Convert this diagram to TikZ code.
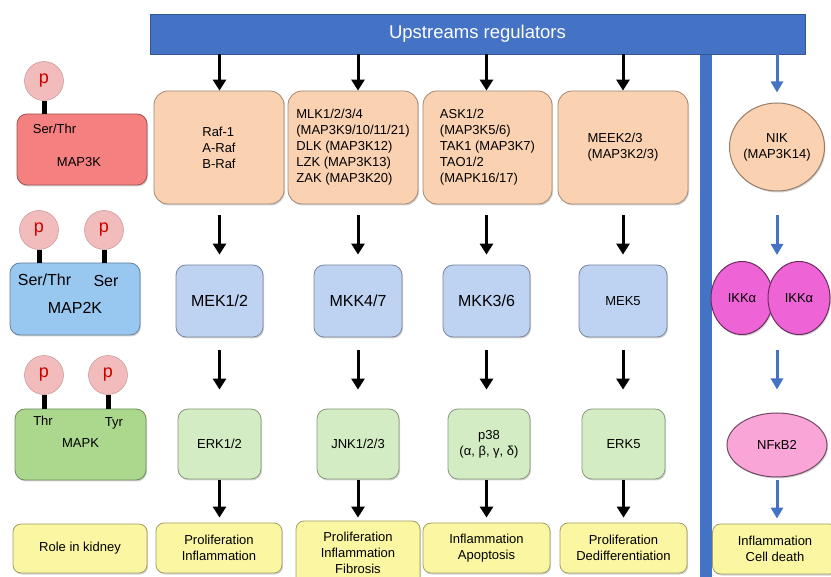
\documentclass[tikz,border=0pt]{standalone}
\usepackage{fontspec}
\setmainfont{Liberation Sans}
\usetikzlibrary{positioning}
\usetikzlibrary{arrows.meta, shapes.geometric, shadows}

\definecolor{barblue}{RGB}{68,114,196}
\definecolor{peach}{RGB}{250,210,178}
\definecolor{kkkred}{RGB}{245,128,128}
\definecolor{kkblue}{RGB}{152,200,240}
\definecolor{mekblue}{RGB}{190,210,242}
\definecolor{kgreen}{RGB}{172,216,142}
\definecolor{erkgreen}{RGB}{212,236,196}
\definecolor{roleyellow}{RGB}{250,246,162}
\definecolor{pdot}{RGB}{242,188,188}
\definecolor{pred}{RGB}{205,0,0}
\definecolor{ikkpink}{RGB}{238,100,214}
\definecolor{nfkbpink}{RGB}{250,165,215}

\tikzset{
  box/.style={rectangle, rounded corners=10pt, draw=#1!65!black, fill=#1, line width=0.8pt,
    inner sep=2pt, align=center, font=\fontsize{13}{16}\selectfont,
    drop shadow={shadow xshift=1pt, shadow yshift=-1.5pt, opacity=0.35}},
  sz/.style 2 args={minimum width=#1pt, minimum height=#2pt},
  big/.style={font=\fontsize{16}{19}\selectfont},
  lbl/.style={inner sep=0pt, font=\fontsize{13}{16}\selectfont},
  pdotc/.style={circle, minimum size=39pt, inner sep=0pt, fill=pdot, draw=pdot!80!black, line width=0.5pt,
    text=pred, font=\fontsize{18}{20}\selectfont},
  stick/.style={line width=5pt, black},
  blk/.style={-{Triangle[width=13pt,length=11pt]}, line width=3pt, black},
  blu/.style={-{Triangle[width=12pt,length=11pt]}, line width=3pt, barblue},
  oval/.style={ellipse, inner sep=0pt, draw=#1!45!black, fill=#1, line width=1pt,
    align=center, font=\fontsize{13}{16}\selectfont,
    drop shadow={shadow xshift=1pt, shadow yshift=-1.5pt, opacity=0.35}},
}

\begin{document}
\begin{tikzpicture}[x=1pt,y=-1pt]
\useasboundingbox (0,0) rectangle (831,577);

% separator and header
\fill[barblue] (700,54) rectangle (712,577);
\node[rectangle, fill=barblue, draw=barblue!75!black, line width=0.8pt, sz={655}{40}, text=white,
  font=\fontsize{18.5}{22}\selectfont] (bar) at (477.5,34) {Upstreams regulators};

% left column: the three kinase levels
\node[box=kkkred, sz={130}{71}] (map3k) at (82,149.5) {};
\node[lbl] (map3ks) at (54.5,129) {Ser/Thr};
\node[lbl] (map3kn) at (79,162) {MAP3K};
\node[pdotc] (p1) at (44,81) {p};
\draw[stick] (p1.south) -- (p1.south |- map3k.north);

\node[box=kkblue, sz={130}{72}] (map2k) at (75,299) {};
\node[lbl, big] (map2ks) at (44.5,280) {Ser/Thr};
\node[lbl, big] (map2kt) at (106,281) {Ser};
\node[lbl, big] (map2kn) at (75,308) {MAP2K};
\node[pdotc] (p2) at (39,230) {p};
\node[pdotc] (p3) at (104,230) {p};
\draw[stick] (p2.south) -- (p2.south |- map2k.north);
\draw[stick] (p3.south) -- (p3.south |- map2k.north);

\node[box=kgreen, sz={131}{71}] (mapk) at (80.5,444.5) {};
\node[lbl] (mapks) at (43,421) {Thr};
\node[lbl] (mapkt) at (114,423) {Tyr};
\node[lbl] (mapkn) at (80.5,443) {MAPK};
\node[pdotc] (p4) at (44,375) {p};
\node[pdotc] (p5) at (108,375) {p};
\draw[stick] (p4.south) -- (p4.south |- mapk.north);
\draw[stick] (p5.south) -- (p5.south |- mapk.north);

\node[box=roleyellow, sz={134}{49}, rounded corners=8pt] (role) at (80,548.5) {Role in kidney};

% MAP3K row
\node[box=peach, sz={130}{113}, rounded corners=14pt, align=left] (raf) at (219,147.5) {Raf-1\\A-Raf\\B-Raf};
\node[box=peach, sz={130}{113}, rounded corners=14pt, align=left] (mlk) at (353,147.5)
  {MLK1/2/3/4\\(MAP3K9/10/11/21)\\DLK (MAP3K12)\\LZK (MAP3K13)\\ZAK (MAP3K20)};
\node[box=peach, sz={129}{113}, rounded corners=14pt, align=left] (ask) at (487.5,147.5)
  {ASK1/2\\(MAP3K5/6)\\TAK1 (MAP3K7)\\TAO1/2\\(MAPK16/17)};
\node[box=peach, sz={130}{113}, rounded corners=14pt, align=left] (meek) at (623,147.5) {MEEK2/3\\(MAP3K2/3)};

% MAP2K row
\node[box=mekblue, sz={87}{72}, big] (mek) at (219.5,301) {MEK1/2};
\node[box=mekblue, sz={88}{72}, big] (mkk47) at (358,301) {MKK4/7};
\node[box=mekblue, sz={87}{72}, big] (mkk36) at (486.5,301) {MKK3/6};
\node[box=mekblue, sz={88}{72}] (mek5) at (623,301) {MEK5};

% MAPK row
\node[box=erkgreen, sz={83}{70}] (erk) at (219.5,444) {ERK1/2};
\node[box=erkgreen, sz={82}{70}] (jnk) at (358,444) {JNK1/2/3};
\node[box=erkgreen, sz={82}{70}] (p38) at (489,444) {p38\\(α, β, γ, δ)};
\node[box=erkgreen, sz={83}{70}] (erk5) at (623.5,444) {ERK5};

% roles in kidney
\node[box=roleyellow, sz={126}{50}, rounded corners=8pt] (role1) at (219,548) {Proliferation\\Inflammation};
\node[box=roleyellow, sz={124}{64}, rounded corners=8pt] (role2) at (358,553) {Proliferation\\Inflammation\\Fibrosis};
\node[box=roleyellow, sz={127}{50}, rounded corners=8pt] (role3) at (486.5,548) {Inflammation\\Apoptosis};
\node[box=roleyellow, sz={127}{50}, rounded corners=8pt] (role4) at (623.5,548) {Proliferation\\Dedifferentiation};
\node[box=roleyellow, sz={125}{50}, rounded corners=8pt] (role5) at (775,549) {Inflammation\\Cell death};

% non-canonical branch
\node[oval=peach, draw=peach!60!black, minimum width=88pt, minimum height=88pt] (nik) at (777,147) {NIK\\(MAP3K14)};
\node[oval=ikkpink, minimum width=62pt, minimum height=73pt] (ikka) at (742,298) {IKKα};
\node[oval=ikkpink, minimum width=62pt, minimum height=73pt] (ikkb) at (799,298) {IKKα};
\node[oval=nfkbpink, minimum width=100pt, minimum height=64pt] (nfkb) at (777,445) {NFκB2};

% arrows
\draw[blk] (bar.south -| mek.north) -- (mek.north |- raf.north);
\draw[blk] (bar.south -| mkk47.north) -- (mkk47.north |- mlk.north);
\draw[blk] (bar.south -| mkk36.north) -- (mkk36.north |- ask.north);
\draw[blk] (bar.south -| mek5.north) -- (mek5.north |- meek.north);

\draw[blk, shorten <=11pt, shorten >=10pt] (mek.north |- raf.south) -- (mek.north);
\draw[blk, shorten <=11pt, shorten >=10pt] (mkk47.north |- mlk.south) -- (mkk47.north);
\draw[blk, shorten <=11pt, shorten >=10pt] (mkk36.north |- ask.south) -- (mkk36.north);
\draw[blk, shorten <=11pt, shorten >=10pt] (mek5.north |- meek.south) -- (mek5.north);

\draw[blk, shorten <=13pt, shorten >=19pt] (mek.south) -- (mek.south |- erk.north);
\draw[blk, shorten <=13pt, shorten >=19pt] (mkk47.south) -- (mkk47.south |- jnk.north);
\draw[blk, shorten <=13pt, shorten >=19pt] (mkk36.south) -- (mkk36.south |- p38.north);
\draw[blk, shorten <=13pt, shorten >=19pt] (mek5.south) -- (mek5.south |- erk5.north);

\draw[blk, shorten <=1pt, shorten >=5pt] (erk.south) -- (erk.south |- role1.north);
\draw[blk, shorten <=1pt, shorten >=3pt] (jnk.south) -- (jnk.south |- role2.north);
\draw[blk, shorten <=1pt, shorten >=5pt] (mkk36.south |- p38.south) -- (mkk36.south |- role3.north);
\draw[blk, shorten <=1pt, shorten >=5pt] (erk5.south) -- (erk5.south |- role4.north);

\draw[blu, shorten >=10pt] (bar.south -| nik.north) -- (nik.north);
\draw[blu, shorten <=24pt, shorten >=6pt] (nik.south) -- (nik.south |- ikka.north);
\draw[blu, shorten <=15pt, shorten >=23pt] (nik.south |- ikka.south) -- (nfkb.north);
\draw[blu, shorten <=3pt, shorten >=5pt] (nfkb.south) -- (nfkb.south |- role5.north);

\end{tikzpicture}
\end{document}
